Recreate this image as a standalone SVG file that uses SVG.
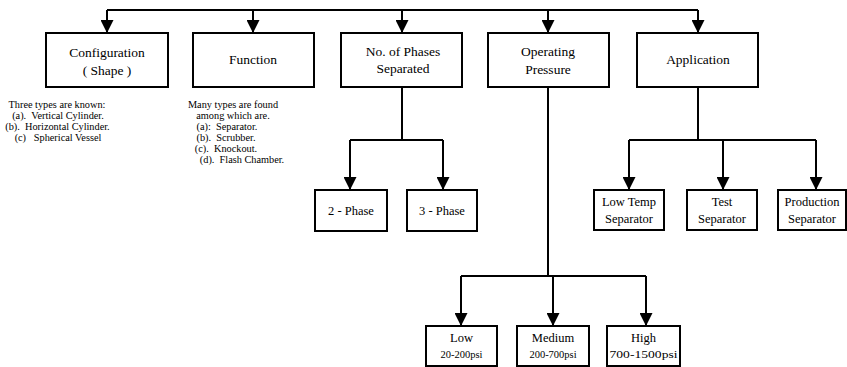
<svg xmlns="http://www.w3.org/2000/svg" width="847" height="367" viewBox="0 0 847 367">
  <style>
    .box { fill: #fff; stroke: #000; stroke-width: 2; }
    .lbl { font-family: "Liberation Serif", "Times New Roman", serif; font-size: 13.5px; fill: #000; text-anchor: middle; }
    .sm { font-size: 12.5px; }
    .psi { font-size: 10.5px; }
    .note { font-family: "Liberation Serif", "Times New Roman", serif; font-size: 10.3px; fill: #000; text-anchor: middle; white-space: pre; }
    .ln { fill: none; stroke: #000; stroke-width: 2; }
    .arr { marker-end: url(#head); }
  </style>
  <defs>
    <marker id="head" markerUnits="userSpaceOnUse" markerWidth="13" markerHeight="13" viewBox="0 0 13 13" refX="13" refY="6.5" orient="auto">
      <path d="M0,0 L13,6.5 L0,13 Z" fill="#000"/>
    </marker>
  </defs>

  <!-- connectors -->
  <g id="connectors">
    <path class="ln" d="M107,10 H698"/>
    <path class="ln arr" d="M107,10 V33"/>
    <path class="ln arr" d="M253,10 V33"/>
    <path class="ln arr" d="M402,10 V33"/>
    <path class="ln arr" d="M548,10 V33"/>
    <path class="ln arr" d="M698,10 V33"/>

    <path class="ln" d="M402,87 V140 M350,140 H443"/>
    <path class="ln arr" d="M350,140 V190"/>
    <path class="ln arr" d="M443,140 V190"/>

    <path class="ln" d="M698,87 V140 M629,140 H816"/>
    <path class="ln arr" d="M629,140 V190"/>
    <path class="ln arr" d="M723,140 V190"/>
    <path class="ln arr" d="M816,140 V190"/>

    <path class="ln" d="M548,87 V276 M461,276 H646"/>
    <path class="ln arr" d="M461,276 V326"/>
    <path class="ln arr" d="M553,276 V326"/>
    <path class="ln arr" d="M646,276 V326"/>
  </g>

  <!-- top row -->
  <g id="configuration">
    <rect class="box" x="46" y="33" width="122" height="54"/>
    <text class="lbl" x="107" y="57">Configuration</text>
    <text class="lbl" x="107" y="75">( Shape )</text>
  </g>
  <g id="function">
    <rect class="box" x="193" y="33" width="121" height="54"/>
    <text class="lbl" x="253" y="64">Function</text>
  </g>
  <g id="phases">
    <rect class="box" x="341" y="33" width="121" height="54"/>
    <text class="lbl" x="403" y="56">No. of Phases</text>
    <text class="lbl" x="403" y="73">Separated</text>
  </g>
  <g id="pressure">
    <rect class="box" x="488" y="33" width="121" height="54"/>
    <text class="lbl" x="548" y="56">Operating</text>
    <text class="lbl" x="548" y="74">Pressure</text>
  </g>
  <g id="application">
    <rect class="box" x="637" y="33" width="121" height="54"/>
    <text class="lbl" x="698" y="64">Application</text>
  </g>

  <!-- notes under the first two boxes -->
  <g id="shape-notes">
    <text class="note" x="57" y="108">Three types are known:</text>
    <text class="note" x="58" y="119">(a).  Vertical Cylinder.</text>
    <text class="note" x="57.5" y="130">(b).  Horizontal Cylinder.</text>
    <text class="note" x="58" y="141">(c)   Spherical Vessel</text>
  </g>
  <g id="function-notes">
    <text class="note" x="233" y="108">Many types are found</text>
    <text class="note" x="233" y="119">among which are.</text>
    <text class="note" x="227" y="130">(a):  Separator.</text>
    <text class="note" x="226" y="141">(b).  Scrubber.</text>
    <text class="note" x="226" y="152">(c).  Knockout.</text>
    <text class="note" x="242" y="163">(d).  Flash Chamber.</text>
  </g>

  <!-- phase boxes -->
  <g id="two-phase">
    <rect class="box" x="315" y="190" width="72" height="41"/>
    <text class="lbl sm" x="351" y="215">2 - Phase</text>
  </g>
  <g id="three-phase">
    <rect class="box" x="407" y="190" width="70" height="41"/>
    <text class="lbl sm" x="442" y="215">3 - Phase</text>
  </g>

  <!-- application boxes -->
  <g id="low-temp">
    <rect class="box" x="594" y="190" width="70" height="40"/>
    <text class="lbl sm" x="629" y="206">Low Temp</text>
    <text class="lbl sm" x="629" y="223">Separator</text>
  </g>
  <g id="test">
    <rect class="box" x="687" y="190" width="70" height="40"/>
    <text class="lbl sm" x="722" y="206">Test</text>
    <text class="lbl sm" x="722" y="223">Separator</text>
  </g>
  <g id="production">
    <rect class="box" x="778" y="190" width="68" height="40"/>
    <text class="lbl sm" x="812" y="206">Production</text>
    <text class="lbl sm" x="812" y="223">Separator</text>
  </g>

  <!-- pressure ranges -->
  <g id="low">
    <rect class="box" x="426" y="326" width="71" height="40"/>
    <text class="lbl sm" x="461.5" y="342">Low</text>
    <text class="lbl psi" x="461.5" y="358">20-200psi</text>
  </g>
  <g id="medium">
    <rect class="box" x="517" y="326" width="72" height="40"/>
    <text class="lbl sm" x="553" y="342">Medium</text>
    <text class="lbl psi" x="553" y="358">200-700psi</text>
  </g>
  <g id="high">
    <rect class="box" x="607" y="326" width="73" height="40"/>
    <text class="lbl sm" x="643.5" y="342">High</text>
    <text class="lbl psi" x="643.5" y="358" textLength="68" lengthAdjust="spacingAndGlyphs">700-1500psi</text>
  </g>
</svg>
